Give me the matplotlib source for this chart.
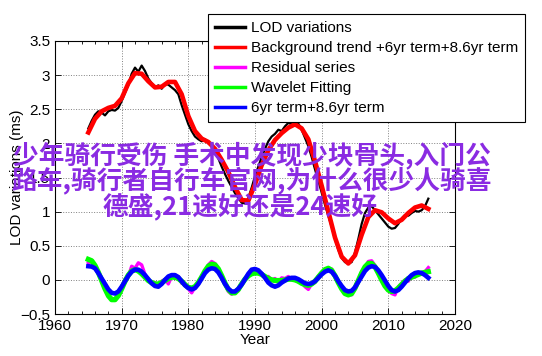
import numpy as np
import matplotlib
matplotlib.use('Agg')
import matplotlib.pyplot as plt
from matplotlib.ticker import MultipleLocator

plt.rcParams['font.family'] = ['Liberation Sans', 'DejaVu Sans']

# Datos
anios_tend = list(range(1965, 2017))
tendencia = [2.16, 2.36, 2.47, 2.52, 2.55, 2.66, 2.88, 3.03, 3.02, 2.91,
             2.82, 2.83, 2.90, 2.90, 2.72, 2.40, 2.18, 2.07, 2.02, 1.92,
             1.76, 1.58, 1.36, 1.17, 1.16, 1.40, 1.68, 1.90, 2.05, 2.15,
             2.23, 2.28, 2.22, 2.06, 1.74, 1.38, 1.00, 0.62, 0.34, 0.24,
             0.36, 0.66, 0.92, 1.02, 0.99, 0.90, 0.83, 0.88, 0.98, 1.06,
             1.09, 1.04]

anios = [1965 + 0.5 * i for i in range(103)]

lod = [2.22, 2.33, 2.42, 2.47, 2.45, 2.41, 2.47, 2.49, 2.48, 2.52,
       2.62, 2.74, 2.86, 3.02, 3.11, 3.05, 3.14, 3.06, 2.95, 2.88,
       2.82, 2.85, 2.80, 2.87, 2.86, 2.82, 2.78, 2.72, 2.56, 2.42,
       2.28, 2.18, 2.10, 2.06, 2.03, 2.06, 2.00, 1.96, 1.88, 1.78,
       1.66, 1.55, 1.45, 1.36, 1.27, 1.20, 1.13, 1.12, 1.20, 1.35,
       1.52, 1.66, 1.80, 1.92, 2.03, 2.10, 2.14, 2.20, 2.18, 2.25,
       2.30, 2.28, 2.26, 2.29, 2.20, 2.08, 1.96, 1.80, 1.62, 1.45,
       1.28, 1.10, 0.94, 0.78, 0.60, 0.44, 0.32, 0.26, 0.24, 0.26,
       0.40, 0.60, 0.82, 0.98, 1.06, 1.08, 1.02, 0.96, 0.90, 0.84,
       0.78, 0.75, 0.76, 0.82, 0.90, 0.95, 0.94, 0.98, 1.01, 1.00,
       1.02, 1.08, 1.19]

residuo = [0.25, 0.27, 0.20, 0.12, -0.02, -0.12, -0.25, -0.27, -0.30, -0.22,
           -0.14, 0.01, 0.05, 0.20, 0.17, 0.25, 0.22, 0.08, -0.02, -0.05,
           -0.04, -0.08, -0.02, 0.01, -0.06, 0.05, 0.02, 0.05, -0.05, -0.06,
           -0.13, -0.19, -0.11, -0.05, 0.06, 0.12, 0.22, 0.27, 0.24, 0.15,
           0.04, -0.06, -0.17, -0.21, -0.18, -0.16, -0.04, 0.02, 0.08, 0.10,
           0.12, 0.09, 0.10, 0.04, 0.05, 0.00, 0.02, -0.03, 0.03, 0.02,
           0.05, 0.00, 0.02, -0.03, -0.04, -0.10, -0.14, -0.06, -0.04, 0.06,
           0.08, 0.16, 0.15, 0.16, 0.04, -0.05, -0.12, -0.21, -0.20, -0.22,
           -0.10, 0.00, 0.12, 0.18, 0.27, 0.28, 0.21, 0.09, 0.02, -0.10,
           -0.14, -0.20, -0.22, -0.10, -0.05, 0.00, -0.02, 0.06, 0.04, 0.10,
           0.09, 0.12, 0.18]

wavelet = [0.30, 0.28, 0.21, 0.11, -0.01, -0.13, -0.23, -0.29, -0.29, -0.23,
           -0.13, -0.02, 0.07, 0.13, 0.15, 0.13, 0.09, 0.04, -0.01, -0.04,
           -0.06, -0.06, -0.04, -0.01, 0.02, 0.04, 0.04, 0.02, -0.02, -0.07,
           -0.11, -0.12, -0.10, -0.04, 0.04, 0.13, 0.20, 0.23, 0.22, 0.16,
           0.06, -0.05, -0.14, -0.19, -0.19, -0.14, -0.06, 0.01, 0.06, 0.09,
           0.10, 0.10, 0.08, 0.05, 0.02, 0.00, -0.01, -0.01, -0.01, 0.00,
           0.01, 0.01, 0.00, -0.02, -0.05, -0.07, -0.08, -0.06, -0.02, 0.04,
           0.10, 0.15, 0.17, 0.14, 0.06, -0.04, -0.13, -0.20, -0.22, -0.20,
           -0.12, -0.01, 0.10, 0.19, 0.24, 0.24, 0.19, 0.10, 0.00, -0.09,
           -0.15, -0.17, -0.16, -0.12, -0.07, -0.02, 0.02, 0.04, 0.06, 0.08,
           0.10, 0.11, 0.12]

termino = [0.20, 0.195, 0.17, 0.10, 0.02, -0.06, -0.14, -0.19, -0.20, -0.17,
           -0.10, -0.02, 0.06, 0.12, 0.15, 0.15, 0.12, 0.07, 0.01, -0.05,
           -0.09, -0.10, -0.06, 0.00, 0.05, 0.07, 0.07, 0.04, -0.02, -0.08,
           -0.12, -0.14, -0.12, -0.06, 0.02, 0.10, 0.15, 0.17, 0.16, 0.11,
           0.03, -0.06, -0.13, -0.17, -0.17, -0.13, -0.07, 0.01, 0.09, 0.15,
           0.16, 0.14, 0.09, 0.03, -0.04, -0.08, -0.10, -0.08, -0.04, -0.01,
           0.02, 0.03, 0.03, 0.01, -0.02, -0.05, -0.06, -0.05, -0.02, 0.03,
           0.08, 0.12, 0.14, 0.12, 0.06, -0.02, -0.09, -0.15, -0.17, -0.16,
           -0.11, -0.03, 0.05, 0.13, 0.18, 0.20, 0.19, 0.14, 0.07, -0.01,
           -0.09, -0.15, -0.17, -0.15, -0.10, -0.04, 0.02, 0.07, 0.10, 0.11,
           0.10, 0.07, 0.03]

nombres = ['LOD variations', 'Background trend +6yr term+8.6yr term',
           'Residual series', 'Wavelet Fitting', '6yr term+8.6yr term']

yticks = [-0.5, 0, 0.5, 1, 1.5, 2, 2.5, 3, 3.5]
ylabels = ['\u22120.5', '0', '0.5', '1', '1.5', '2', '2.5', '3', '3.5']

lineas_texto = ['少年骑行受伤 手术中发现少块骨头,入门公',
                '路车,骑行者自行车官网,为什么很少人骑喜',
                '德盛,21速好还是24速好']

fig = plt.figure(figsize=(5.42, 3.56), dpi=100)
ax = fig.add_axes([55/542, 1 - 314/356, 400/542, 273/356])

ax.plot(anios, lod, color='black', lw=1.6, label=nombres[0])
ax.plot(anios_tend, tendencia, color='red', lw=3.3, label=nombres[1])
ax.plot(anios, residuo, color='magenta', lw=2.4, label=nombres[2])
ax.plot(anios, wavelet, color='#00ff00', lw=3.8, label=nombres[3])
ax.plot(anios, termino, color='blue', lw=3.3, label=nombres[4])

ax.set_xlim(1960, 2020)
ax.set_ylim(-0.5, 3.5)
ax.set_yticks(yticks)
ax.set_yticklabels(ylabels)
ax.xaxis.set_minor_locator(MultipleLocator(2))
ax.tick_params(which='both', direction='in', top=True, right=True, labelsize=11)
ax.tick_params(which='major', length=4, width=0.6)
ax.tick_params(which='minor', length=2.5, width=0.6)
ax.grid(True, which='major', linestyle=':', color='gray', lw=0.7)
for s in ax.spines.values():
    s.set_linewidth(0.8)
ax.set_xlabel('Year', fontsize=11, labelpad=0)
ax.set_ylabel('LOD variations (ms)', fontsize=11)
ax.yaxis.set_label_coords(-0.078, 0.5)

leg = fig.legend(loc='upper left', bbox_to_anchor=(208/542, 1 - 14/356),
                 fontsize=11, frameon=True, fancybox=False, framealpha=1,
                 edgecolor='black', handlelength=2.0, handletextpad=0.35,
                 labelspacing=0.4, borderpad=0.45, borderaxespad=0)
leg.get_frame().set_linewidth(0.8)
for l in leg.get_lines():
    l.set_linewidth(2.5)

# Texto superpuesto
ys = [155, 181, 207]
xs = [252, 252, 240]
for t, xx, yy in zip(lineas_texto, xs, ys):
    fig.text(xx/542, 1 - yy/356, t, ha='center', va='center', fontsize=18.5,
             fontweight='bold', color='#8a2be2',
             family=['Noto Sans CJK SC', 'DejaVu Sans'])

plt.savefig('out.png', dpi=100)
